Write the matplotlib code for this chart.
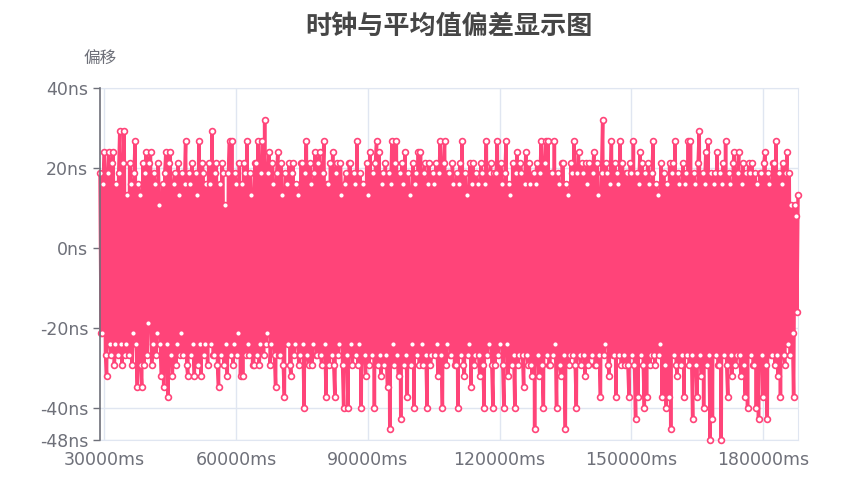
import numpy as np
import matplotlib.pyplot as plt

plt.rcParams['font.family'] = ['DejaVu Sans']

# 时间轴：29000ms 起，每 250ms 一个采样点
t_start = 29000
t_step = 250

# 偏差值，单位为时钟刻度（1 刻度 = 8/3 ns）
ns_per_tick = 8 / 3
offset_ticks = [
    7, -8, -8, 6, 9, -10, -12, 7, 9, -9, -10, 8, 9, -11, -9, 6, -10, 7, 11, -9,
    -11, 8, 11, -10, -9, 5, -10, 8, 6, -11, -8, 7, 10, -9, -13, 6, 5, -11, -13, 8,
    -11, 7, 9, -10, -7, 8, 9, -11, -9, 7, 6, -10, -8, 8, 4, -9, -12, 6, -13, 7,
    9, -9, -14, 8, 9, -10, -12, 6, 7, -11, -9, 8, 5, -10, -8, 7, -10, 6, 10, -11,
    -12, 7, 6, -10, 8, -9, -12, 7, 5, -11, 10, -9, -12, 8, 7, -10, -9, 6, -11, 8,
    6, -9, 11, -10, -10, 7, 8, -11, -13, 6, -10, 8, 7, -11, 4, -9, -12, 7, 10, -10,
    10, -11, -9, 7, 6, -10, -8, 8, -12, 6, -12, 8, 7, -10, 10, -9, -10, 7, 5, -11,
    -11, 8, 8, -10, 10, -11, -9, 7, 10, -10, 12, -9, -8, 7, 9, -11, -9, 8, 6, -10,
    -13, 7, 9, -10, -10, 8, 5, -11, -14, 7, 6, -9, 8, -11, -12, 7, 8, -10, -9, 6,
    5, -11, -10, 8, 8, -9, -15, 7, 10, -10, -11, 8, 6, -11, -9, 7, 9, -10, -10, 8,
    9, -10, -11, 7, 10, -9, -14, 6, 6, -11, 8, -10, 9, -11, -14, 7, 8, -10, -9, 8,
    5, -11, -15, 6, 7, -10, -15, 8, 8, -9, -11, 7, 6, -10, 10, -11, -9, 7, -15, 6,
    6, -10, -12, 8, 5, -11, 9, -10, -10, 7, -15, 8, 10, -11, 9, -10, -12, 6, 7, -11,
    8, -10, -13, 7, -17, 6, 10, -9, -11, 8, 10, -10, -12, 7, -16, 8, 6, -11, 9, -10,
    -14, 7, 5, -11, -9, 8, -15, 6, 7, -10, 9, -11, 9, -9, -11, 7, 8, -10, -15, 6,
    8, -11, -10, 7, 6, -10, 8, -9, -12, 7, 10, -10, -15, 8, 10, -11, -9, 7, 7, -10,
    -10, 8, 6, -11, -11, 7, -15, 6, 8, -10, 10, -11, -12, 7, 5, -10, -9, 8, -13, 6,
    8, -11, -10, 7, 6, -10, -12, 8, 7, -11, -15, 6, 10, -10, -9, 7, 8, -11, -15, 7,
    -11, 7, 10, -10, -9, 8, 6, -11, -15, 7, 10, -9, -12, 6, 5, -11, 8, -10, -15, 7,
    9, -11, -10, 8, 7, -10, -13, 6, 9, -10, -11, 8, 6, -11, -12, 7, -17, 6, 8, -10,
    -12, 7, 10, -11, -15, 8, 10, -10, 10, -11, -11, 7, 7, -10, 10, -9, -15, 7, 6, -11,
    -12, 8, 8, -10, -17, 6, 5, -11, -10, 8, 7, -10, 10, -11, -15, 7, 9, -10, -11, 8,
    7, -10, -12, 8, 6, -11, 8, -10, -10, 7, 9, -11, -11, 8, 5, -10, -14, 7, 12, -10,
    -9, 8, 7, -11, -12, 6, 10, -10, -10, 8, -14, 7, 6, -10, 10, -11, 8, -10, -11, 7,
    7, -11, -14, 8, 7, -10, 10, -11, -16, 7, -14, 6, 9, -10, 8, -11, -15, 7, -14, 8,
    6, -11, -10, 7, 10, -10, -11, 6, 5, -10, -9, 8, -14, 7, 7, -11, -15, 6, -14, 8,
    -17, 7, 8, -10, 10, -11, -12, 7, 6, -11, -10, 8, -14, 6, 7, -10, 10, -11, 10, -10,
    -16, 7, 6, -11, -14, 8, 11, -10, -12, 7, -15, 6, 9, -11, 10, -10, -18, 7, -16, 6,
    7, -10, 9, -11, -11, 7, -18, 6, 8, -10, 10, -11, -14, 7, 6, -10, -12, 8, 9, -11,
    -10, 7, 9, -10, -12, 6, 8, -11, -14, 7, -15, 8, 7, -10, 8, -11, -11, 7, -15, 6,
    -16, 7, 7, -10, -14, 8, 9, -11, -16, 7, 6, -10, -10, 8, 8, -11, 10, -10, -12, 7,
    -14, 6, 8, -10, -11, 7, 9, -9, 7, -10, 4, -8, -14, 4, 3, -6, 5,
]

y_ticks = [40, 20, 0, -20, -40, -48]
y_labels = ['40ns', '20ns', '0ns', '-20ns', '-40ns', '-48ns']
x_ticks = [30000, 60000, 90000, 120000, 150000, 180000]
x_labels = ['30000ms', '60000ms', '90000ms', '120000ms', '150000ms', '180000ms']

t = t_start + t_step * np.arange(len(offset_ticks))
offset_ns = np.array(offset_ticks) * ns_per_tick

fig = plt.figure(figsize=(8.66, 4.82), dpi=100)
ax = fig.add_axes([0.1155, 0.0871, 0.806, 0.7303])

line_color = '#ff4479'
axis_gray = '#6e7079'
grid_color = '#e0e6f1'

ax.plot(t, offset_ns, color=line_color, linewidth=2.5, marker='o', markersize=4.2,
        markerfacecolor='white', markeredgecolor=line_color, markeredgewidth=1.2,
        clip_on=False, zorder=3)

ax.set_xlim(t_start, t[-1])
ax.set_ylim(-48, 40)
ax.set_xticks(x_ticks)
ax.set_xticklabels(x_labels)
ax.set_yticks(y_ticks)
ax.set_yticklabels(y_labels)

ax.grid(True, color=grid_color, linewidth=1)
ax.set_axisbelow(True)
for side in ['top', 'right', 'bottom']:
    ax.spines[side].set_color(grid_color)
ax.spines['left'].set_color(axis_gray)
ax.spines['left'].set_linewidth(1.2)
ax.spines['left'].set_zorder(4)

ax.tick_params(axis='y', colors=axis_gray, labelsize=12.5, length=5, width=1)
ax.tick_params(axis='x', colors=axis_gray, labelsize=12.5, length=0, pad=8)

cjk = ['Noto Sans CJK SC', 'DejaVu Sans']
fig.text(449 / 866, 1 - 26 / 482, '时钟与平均值偏差显示图', ha='center', va='center',
         fontsize=18.8, fontweight='bold', color='#464646', family=cjk)
fig.text(100 / 866, 1 - 58 / 482, '偏移', ha='center', va='center',
         fontsize=12, color=axis_gray, family=cjk)

fig.savefig('out.png', dpi=100)
